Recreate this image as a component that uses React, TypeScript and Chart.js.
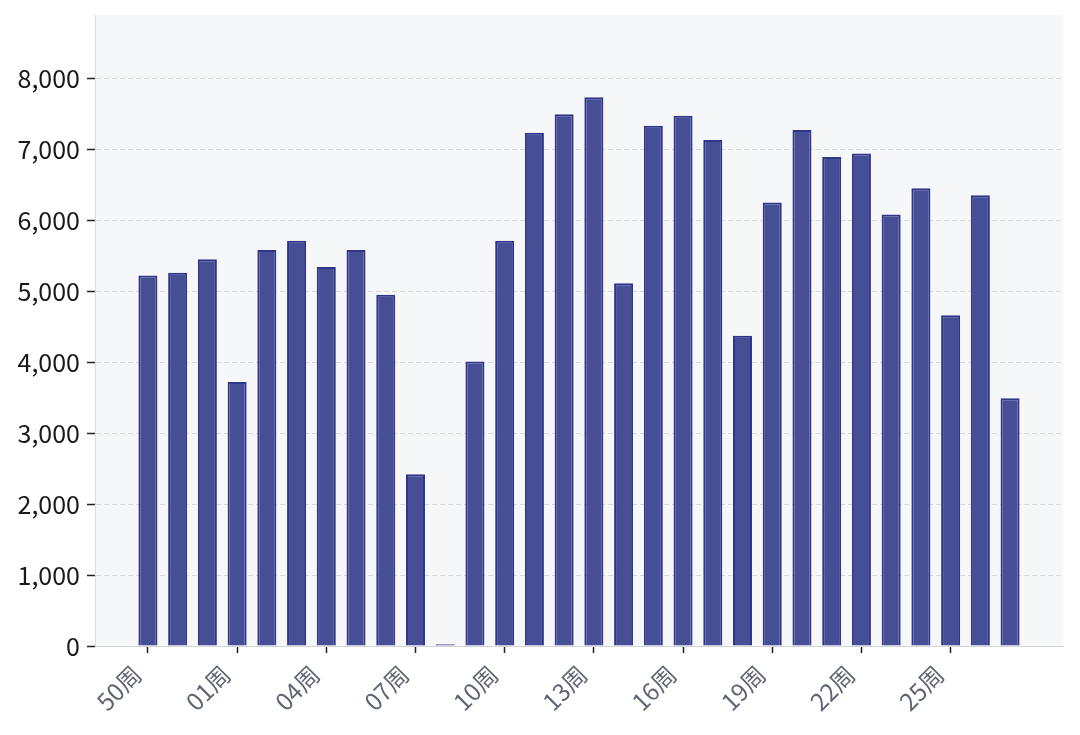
import React, { useEffect, useRef } from 'react';
import { Chart, registerables } from 'chart.js';

Chart.register(...registerables);

// weeks 50..52 of last year, then 01..27
const weekLabels = [
  '50周', '51周', '52周', '01周', '02周', '03周', '04周', '05周', '06周', '07周',
  '08周', '09周', '10周', '11周', '12周', '13周', '14周', '15周', '16周', '17周',
  '18周', '19周', '20周', '21周', '22周', '23周', '24周', '25周', '26周', '27周',
];

const weeklyValues = [
  5220, 5260, 5450, 3720, 5580, 5710, 5340, 5580, 4950, 2420,
  25, 4010, 5710, 7230, 7490, 7730, 5110, 7330, 7470, 7130,
  4370, 6250, 7270, 6890, 6940, 6080, 6450, 4660, 6350, 3490,
];

const shownTickIdx = [0, 3, 6, 9, 12, 15, 18, 21, 24, 27];
const yTickValues = [0, 1000, 2000, 3000, 4000, 5000, 6000, 7000, 8000];
const yMax = 8890;

const FONT = "'Noto Sans CJK SC', 'Noto Sans', sans-serif";

const plotBg = {
  id: 'plotBg',
  beforeDraw(chart: any) {
    const { ctx, chartArea } = chart;
    if (!chartArea) return;
    ctx.save();
    ctx.fillStyle = '#f6f7f9';
    ctx.fillRect(chartArea.left, chartArea.top, chartArea.right - chartArea.left, chartArea.bottom - chartArea.top);
    ctx.restore();
  },
};

const App: React.FC = () => {
  const canvasRef = useRef<HTMLCanvasElement>(null);
  const chartRef = useRef<Chart | null>(null);

  useEffect(() => {
    document.body.style.margin = '0';
    document.body.style.background = '#ffffff';
    if (!canvasRef.current) return;
    if (chartRef.current) chartRef.current.destroy();

    chartRef.current = new Chart(canvasRef.current, {
      type: 'bar',
      data: {
        datasets: [
          {
            data: weeklyValues.map((v, i) => ({ x: i, y: v })),
            backgroundColor: '#464e96',
            borderColor: '#30378a',
            borderWidth: 2,
            categoryPercentage: 1,
            barPercentage: 0.64,
          },
        ],
      },
      options: {
        animation: false,
        responsive: false,
        maintainAspectRatio: false,
        devicePixelRatio: 1,
        layout: { padding: { top: 15, right: 17, left: 0, bottom: 0 } },
        plugins: {
          legend: { display: false },
          tooltip: { enabled: false },
        },
        scales: {
          x: {
            type: 'linear',
            offset: false,
            min: -1.78,
            max: 30.78,
            afterBuildTicks: (axis: any) => {
              axis.ticks = shownTickIdx.map((v) => ({ value: v }));
            },
            afterFit: (scale: any) => {
              scale.height = 89;
              scale.paddingLeft = 0;
              scale.paddingRight = 0;
            },
            ticks: {
              autoSkip: false,
              minRotation: 45,
              maxRotation: 45,
              padding: 7,
              labelOffset: -11,
              color: '#5f6673',
              font: { family: FONT, size: 24 },
              callback: (v: any) => weekLabels[Number(v)],
            },
            grid: {
              offset: false,
              drawOnChartArea: false,
              drawTicks: true,
              tickLength: 7,
              tickColor: '#222222',
              tickWidth: 1.5,
            },
            border: { color: '#d4d4d4', width: 1 },
          },
          y: {
            min: 0,
            max: yMax,
            afterBuildTicks: (axis: any) => {
              axis.ticks = yTickValues.map((v) => ({ value: v }));
            },
            afterFit: (scale: any) => {
              scale.width = 95;
              scale.paddingTop = 0;
              scale.paddingBottom = 0;
            },
            ticks: {
              padding: 7,
              color: '#1a1a1a',
              font: { family: FONT, size: 25 },
              callback: (v: any) => Number(v).toLocaleString('en-US'),
            },
            grid: {
              color: '#d9d9d9',
              lineWidth: 1,
              drawTicks: true,
              tickLength: 8,
              tickColor: '#222222',
              tickWidth: 1.5,
              tickBorderDash: [],
            },
            border: { color: '#dcdcdc', width: 1, dash: [5, 3] },
          },
        },
      },
      plugins: [plotBg],
    } as any);

    return () => {
      if (chartRef.current) {
        chartRef.current.destroy();
        chartRef.current = null;
      }
    };
  }, []);

  return (
    <div style={{ width: 1080, height: 735, position: 'relative' }}>
      <canvas ref={canvasRef} width={1080} height={735} />
    </div>
  );
};

export default App;
